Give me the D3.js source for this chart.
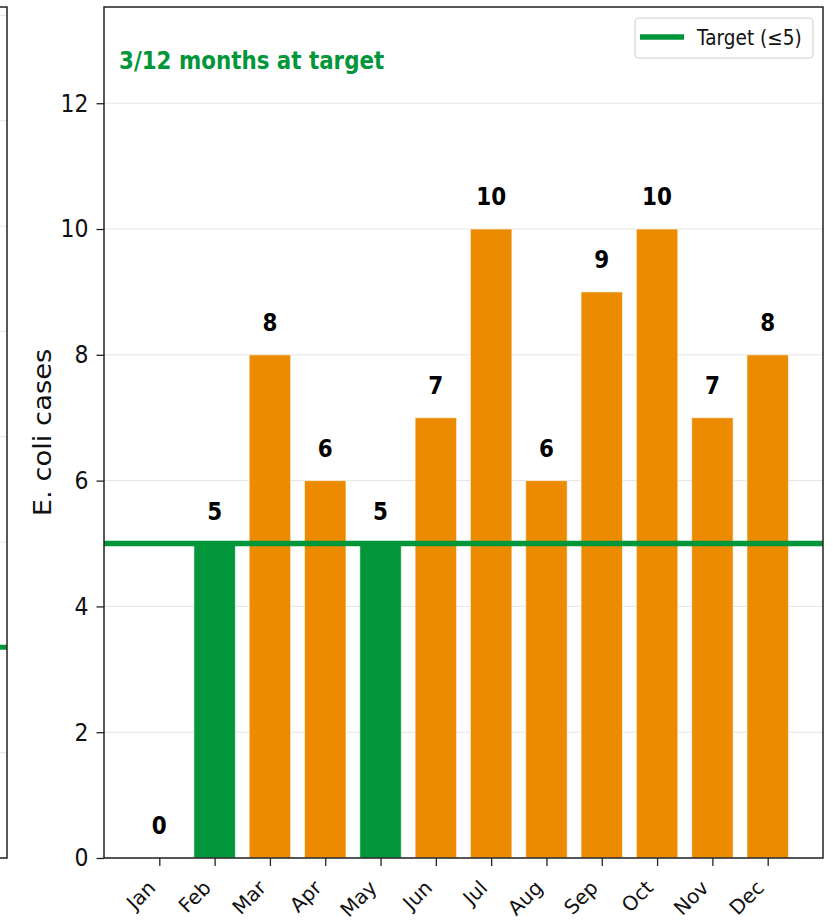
<!DOCTYPE html>
<html>
<head>
<meta charset="utf-8">
<script src="https://cdn.jsdelivr.net/npm/d3@7"></script>
<style>
  body { margin: 0; background: #fff; }
  text { font-family: "DejaVu Sans", sans-serif; }
</style>
</head>
<body>
<div id="chart"></div>
<script>
// data
var months = ["Jan", "Feb", "Mar", "Apr", "May", "Jun", "Jul", "Aug", "Sep", "Oct", "Nov", "Dec"];
var cases = [0, 5, 8, 6, 5, 7, 10, 6, 9, 10, 7, 8];
var target = 5;
var yTicks = [0, 2, 4, 6, 8, 10, 12];
var titleText = "3/12 months at target";
var legendText = "Target (\u22645)";

var green = "#009639";
var orange = "#ED8B00";
var S = 1.12; // text looks a bit taller than wide in the reference

var svgWidth = 833, svgHeight = 921;
var margin = { top: 7, left: 104, right: 10, bottom: 63 };
var width = svgWidth - margin.left - margin.right;
var height = svgHeight - margin.top - margin.bottom;

var svg = d3.select("#chart").append("svg")
  .attr("width", svgWidth)
  .attr("height", svgHeight);

// neighbouring panel, cut off at the left edge
var leftPanel = svg.append("g").attr("transform", `translate(-400, ${margin.top})`);
var yLeft = d3.scaleLinear().domain([0, 16.16]).range([height, 0]);
leftPanel.selectAll("line.grid")
  .data(d3.range(0, 17, 2))
  .enter().append("line")
  .attr("x1", 0).attr("x2", 407)
  .attr("y1", d => yLeft(d)).attr("y2", d => yLeft(d))
  .attr("stroke", "#e5e5e5").attr("stroke-width", 1);
leftPanel.append("line")
  .attr("x1", 0).attr("x2", 407)
  .attr("y1", yLeft(4)).attr("y2", yLeft(4))
  .attr("stroke", green).attr("stroke-width", 5);
leftPanel.append("rect")
  .attr("x", 0).attr("y", 0).attr("width", 407).attr("height", height)
  .attr("fill", "none").attr("stroke", "#222").attr("stroke-width", 1.5);

// main panel
var chartGroup = svg.append("g")
  .attr("transform", `translate(${margin.left}, ${margin.top})`);

var x = d3.scaleLinear().domain([-1, 12]).range([0, width]);
var y = d3.scaleLinear().domain([0, 13.53]).range([height, 0]);
var barW = x(0.75) - x(0);

// grid
chartGroup.selectAll("line.grid")
  .data(yTicks)
  .enter().append("line")
  .attr("class", "grid")
  .attr("x1", 0).attr("x2", width)
  .attr("y1", d => y(d)).attr("y2", d => y(d))
  .attr("stroke", "#e5e5e5").attr("stroke-width", 1);

// bars
chartGroup.selectAll("rect.bar")
  .data(cases)
  .enter().append("rect")
  .attr("class", "bar")
  .attr("x", (d, i) => x(i) - barW / 2)
  .attr("width", barW)
  .attr("y", d => y(d))
  .attr("height", d => y(0) - y(d))
  .attr("fill", d => d <= target ? green : orange)
  .attr("stroke", "#fff")
  .attr("stroke-opacity", 0.6)
  .attr("stroke-width", 1);

// target line
chartGroup.append("line")
  .attr("x1", 0).attr("x2", width)
  .attr("y1", y(target)).attr("y2", y(target))
  .attr("stroke", green).attr("stroke-width", 5.5);

// value labels
chartGroup.selectAll("text.val")
  .data(cases)
  .enter().append("text")
  .attr("class", "val")
  .attr("transform", (d, i) => `translate(${x(i)}, ${y(d + 0.38)}) scale(1, ${S})`)
  .attr("text-anchor", "middle")
  .attr("font-size", "21.5px")
  .attr("font-weight", "bold")
  .attr("fill", "#000")
  .text(d => d);

// axes
var leftAxis = d3.axisLeft(y).tickValues(yTicks).tickSize(7.5).tickPadding(8);
var bottomAxis = d3.axisBottom(x).tickValues(d3.range(12))
  .tickFormat(i => months[i]).tickSize(8);

var gy = chartGroup.append("g").call(leftAxis);
gy.select(".domain").remove();
gy.selectAll("line").attr("stroke", "#222").attr("stroke-width", 1.3);
gy.selectAll("text").attr("font-size", "22px").attr("fill", "#111")
  .style("font-family", "DejaVu Sans")
  .attr("transform", `scale(1, ${S})`);

var gx = chartGroup.append("g")
  .attr("transform", `translate(0, ${height})`)
  .call(bottomAxis);
gx.select(".domain").remove();
gx.selectAll("line").attr("stroke", "#222").attr("stroke-width", 1.3);
gx.selectAll("text")
  .attr("font-size", "20px").attr("fill", "#111")
  .style("font-family", "DejaVu Sans")
  .attr("text-anchor", "end")
  .attr("x", 0).attr("y", 0).attr("dy", 0)
  .attr("transform", "translate(-3, 31) rotate(-45)");

// frame
chartGroup.append("rect")
  .attr("x", 0).attr("y", 0).attr("width", width).attr("height", height)
  .attr("fill", "none").attr("stroke", "#222").attr("stroke-width", 1.5);

// y label
chartGroup.append("text")
  .attr("transform", `translate(${-53}, ${height / 2}) rotate(-90) scale(1.14, 1)`)
  .attr("text-anchor", "middle")
  .attr("font-size", "24px")
  .attr("fill", "#111")
  .text("E. coli cases");

// months-at-target note
chartGroup.append("text")
  .attr("transform", `translate(15, 62) scale(1, ${S})`)
  .attr("font-size", "21.4px")
  .attr("font-weight", "bold")
  .attr("fill", green)
  .text(titleText);

// legend
var legend = chartGroup.append("g").attr("transform", `translate(${width - 188}, 11)`);
legend.append("rect")
  .attr("width", 178).attr("height", 40).attr("rx", 3)
  .attr("fill", "#fff").attr("fill-opacity", 0.8)
  .attr("stroke", "#ccc").attr("stroke-width", 1);
legend.append("line")
  .attr("x1", 5).attr("x2", 49).attr("y1", 19).attr("y2", 19)
  .attr("stroke", green).attr("stroke-width", 5.5);
legend.append("text")
  .attr("transform", `translate(62, 27) scale(1, ${S})`)
  .attr("font-size", "18.5px")
  .attr("fill", "#111")
  .text(legendText);
</script>
</body>
</html>
